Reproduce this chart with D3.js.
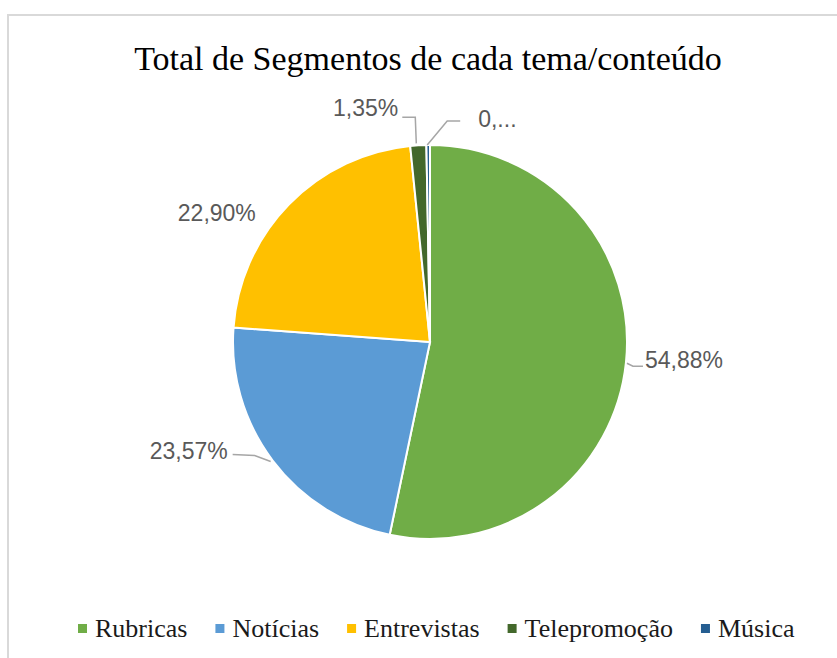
<!DOCTYPE html>
<html>
<head>
<meta charset="utf-8">
<script src="https://cdn.jsdelivr.net/npm/d3@7"></script>
<style>
  body { margin: 0; background: #fff; }
</style>
</head>
<body>
<div id="chart"></div>
<script>
const categories = ['Rubricas', 'Notícias', 'Entrevistas', 'Telepromoção', 'Música']
const values = [54.88, 23.57, 22.90, 1.35, 0.3]
const labelText = ['54,88%', '23,57%', '22,90%', '1,35%', '0,...']
const colors = ['#70ad47', '#5b9bd5', '#ffc000', '#43682b', '#255e91']

// label placement, relative to the point where the slice middle meets the rim
const labelLayout = [
  { dx: 19, dy: 6, anchor: 'start', leader: [[1, 1], [7, 4], [17, 4]] },
  { dx: -45, dy: -2, anchor: 'end', leader: [[-2, 1], [-18, -5], [-40, -6]] },
  { dx: -33, dy: 16, anchor: 'end', leader: null },
  { dx: -20, dy: -29, anchor: 'end', leader: [[-2, -2], [-3, -28], [-16, -28]] },
  { dx: 50, dy: -18, anchor: 'start', leader: [[-1, 0], [19, -24], [32, -24]] },
]

const width = 837
const height = 658
const cx = 430
const cy = 342
const radius = 197

const svg = d3.select('#chart').append('svg')
  .attr('width', width)
  .attr('height', height)

svg.append('rect')
  .attr('width', width)
  .attr('height', height)
  .attr('fill', 'white')

// chart area frame (runs off the right and bottom edge)
svg.append('rect')
  .attr('x', 8)
  .attr('y', 15)
  .attr('width', 900)
  .attr('height', 700)
  .attr('fill', 'none')
  .attr('stroke', '#d9d9d9')
  .attr('stroke-width', 2)

svg.append('text')
  .attr('x', cx - 2)
  .attr('y', 70)
  .attr('text-anchor', 'middle')
  .attr('font-family', '"Liberation Serif", "Times New Roman", serif')
  .attr('font-size', 34)
  .attr('fill', '#000')
  .text('Total de Segmentos de cada tema/conteúdo')

const data = categories.map((c, i) => ({ name: c, value: values[i], label: labelText[i], i }))

const pie = d3.pie().sort(null).value(d => d.value)
const arc = d3.arc().innerRadius(0).outerRadius(radius)
const arcs = pie(data)

const g = svg.append('g').attr('transform', 'translate(' + cx + ',' + cy + ')')

g.selectAll('path.slice')
  .data(arcs)
  .enter().append('path')
  .attr('class', 'slice')
  .attr('d', arc)
  .attr('fill', d => colors[d.data.i])
  .attr('stroke', 'white')
  .attr('stroke-width', 2)

function rimPoint(d) {
  const a = (d.startAngle + d.endAngle) / 2
  return [radius * Math.sin(a), -radius * Math.cos(a)]
}

const line = d3.line()

arcs.forEach(d => {
  const lay = labelLayout[d.data.i]
  const p = rimPoint(d)
  if (lay.leader) {
    g.append('path')
      .attr('d', line(lay.leader.map(o => [p[0] + o[0], p[1] + o[1]])))
      .attr('fill', 'none')
      .attr('stroke', '#a6a6a6')
      .attr('stroke-width', 1.5)
  }
  g.append('text')
    .attr('x', p[0] + lay.dx)
    .attr('y', p[1] + lay.dy)
    .attr('text-anchor', lay.anchor)
    .attr('font-family', '"Liberation Sans", Arial, sans-serif')
    .attr('font-size', 23)
    .attr('fill', '#595959')
    .text(d.data.label)
})

// legend
const legend = svg.append('g')
const legendY = 629
let lx = 78
categories.forEach((c, i) => {
  legend.append('rect')
    .attr('x', lx)
    .attr('y', legendY - 5)
    .attr('width', 9)
    .attr('height', 9)
    .attr('fill', colors[i])
  const t = legend.append('text')
    .attr('x', lx + 17)
    .attr('y', legendY + 8)
    .attr('font-family', '"Liberation Serif", "Times New Roman", serif')
    .attr('font-size', 26)
    .attr('fill', '#1a1a1a')
    .text(c)
  lx += 17 + t.node().getComputedTextLength() + 28
})
</script>
</body>
</html>
